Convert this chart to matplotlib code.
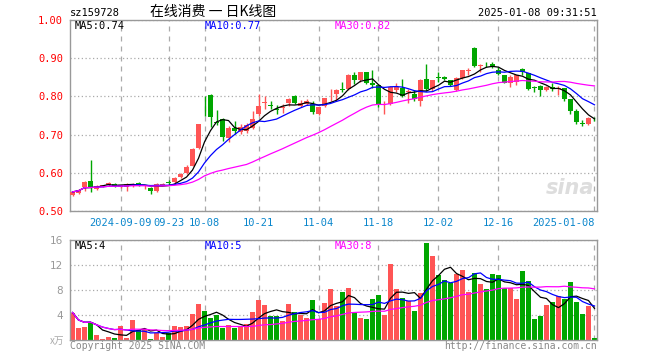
import numpy as np
import pandas as pd
import matplotlib.pyplot as plt

# daily bars, 2024-08-28 .. 2025-01-08
opens = [0.543, 0.548, 0.562, 0.578, 0.558, 0.565, 0.567, 0.571, 0.563, 0.563,
         0.566, 0.574, 0.565, 0.561, 0.552, 0.569, 0.575, 0.575, 0.588, 0.600,
         0.619, 0.665, 0.801, 0.804, 0.734, 0.741, 0.690, 0.716, 0.707, 0.710,
         0.716, 0.754, 0.783, 0.778, 0.768, 0.769, 0.783, 0.802, 0.774, 0.781,
         0.780, 0.754, 0.774, 0.805, 0.806, 0.819, 0.820, 0.856, 0.844, 0.863,
         0.834, 0.830, 0.782, 0.781, 0.816, 0.822, 0.811, 0.807, 0.789, 0.846,
         0.820, 0.851, 0.852, 0.842, 0.818, 0.848, 0.867, 0.927, 0.879, 0.886,
         0.884, 0.870, 0.855, 0.836, 0.838, 0.872, 0.860, 0.825, 0.828, 0.816,
         0.825, 0.819, 0.821, 0.792, 0.763, 0.730, 0.728, 0.742]
highs = [0.552, 0.558, 0.578, 0.633, 0.568, 0.569, 0.576, 0.572, 0.569, 0.572,
         0.573, 0.576, 0.568, 0.563, 0.572, 0.573, 0.581, 0.588, 0.600, 0.620,
         0.665, 0.729, 0.802, 0.806, 0.765, 0.743, 0.722, 0.736, 0.727, 0.730,
         0.763, 0.806, 0.802, 0.789, 0.778, 0.780, 0.795, 0.804, 0.791, 0.792,
         0.789, 0.773, 0.797, 0.820, 0.820, 0.839, 0.858, 0.865, 0.865, 0.865,
         0.868, 0.833, 0.789, 0.826, 0.835, 0.846, 0.820, 0.816, 0.845, 0.885,
         0.844, 0.863, 0.854, 0.844, 0.850, 0.870, 0.875, 0.929, 0.886, 0.890,
         0.890, 0.876, 0.857, 0.857, 0.857, 0.874, 0.862, 0.826, 0.830, 0.826,
         0.834, 0.826, 0.823, 0.794, 0.767, 0.737, 0.745, 0.746]
lows = [0.538, 0.545, 0.552, 0.549, 0.555, 0.562, 0.565, 0.564, 0.561, 0.553,
        0.564, 0.565, 0.557, 0.544, 0.550, 0.567, 0.567, 0.573, 0.586, 0.598,
        0.617, 0.662, 0.749, 0.720, 0.726, 0.682, 0.680, 0.701, 0.701, 0.705,
        0.714, 0.750, 0.767, 0.767, 0.754, 0.757, 0.775, 0.780, 0.772, 0.778,
        0.754, 0.751, 0.771, 0.789, 0.789, 0.811, 0.818, 0.832, 0.837, 0.832,
        0.823, 0.771, 0.754, 0.778, 0.811, 0.798, 0.783, 0.789, 0.776, 0.815,
        0.815, 0.837, 0.844, 0.827, 0.815, 0.846, 0.857, 0.876, 0.864, 0.877,
        0.874, 0.857, 0.834, 0.825, 0.829, 0.855, 0.818, 0.812, 0.802, 0.813,
        0.815, 0.803, 0.789, 0.754, 0.728, 0.723, 0.726, 0.735]
closes = [0.550, 0.556, 0.577, 0.563, 0.566, 0.567, 0.574, 0.566, 0.567, 0.570,
          0.571, 0.567, 0.566, 0.552, 0.570, 0.571, 0.574, 0.586, 0.597, 0.616,
          0.663, 0.728, 0.800, 0.745, 0.730, 0.693, 0.716, 0.710, 0.719, 0.725,
          0.742, 0.776, 0.785, 0.776, 0.764, 0.771, 0.793, 0.783, 0.784, 0.789,
          0.758, 0.771, 0.795, 0.807, 0.818, 0.817, 0.856, 0.844, 0.863, 0.835,
          0.831, 0.780, 0.784, 0.824, 0.824, 0.802, 0.813, 0.793, 0.842, 0.820,
          0.842, 0.849, 0.846, 0.829, 0.848, 0.868, 0.869, 0.879, 0.882, 0.884,
          0.879, 0.859, 0.836, 0.851, 0.855, 0.863, 0.820, 0.823, 0.817, 0.824,
          0.819, 0.822, 0.792, 0.763, 0.732, 0.728, 0.743, 0.740]
volumes = [4.4, 2.0, 2.1, 2.9, 0.8, 0.2, 0.5, 0.4, 2.2, 0.4,
           3.2, 1.6, 1.8, 0.2, 1.1, 0.5, 1.1, 2.2, 2.1, 2.2,
           4.2, 5.8, 4.6, 3.6, 4.0, 2.0, 2.4, 2.0, 2.1, 2.5,
           4.5, 6.4, 5.6, 3.8, 3.8, 3.1, 5.8, 4.5, 4.0, 3.6,
           6.4, 3.3, 6.0, 8.2, 5.4, 7.7, 8.3, 4.3, 3.5, 3.4,
           6.6, 7.2, 4.0, 12.2, 8.2, 6.7, 6.2, 4.6, 7.6, 15.5,
           13.5, 10.4, 9.6, 9.2, 10.5, 11.2, 7.7, 10.7, 9.0, 8.2,
           10.6, 10.4, 8.3, 8.3, 6.6, 11.0, 9.4, 3.4, 3.8, 5.6,
           6.1, 7.0, 6.6, 9.3, 6.1, 4.2, 5.4, 0.3]

holidays = ['2024-09-16', '2024-09-17', '2024-10-01', '2024-10-02', '2024-10-03',
            '2024-10-04', '2024-10-07', '2025-01-01']
tick_dates = ['2024-09-09', '2024-09-23', '2024-10-08', '2024-10-21', '2024-11-04',
              '2024-11-18', '2024-12-02', '2024-12-16', '2025-01-08']
tick_text = ['2024-09-09', '09-23', '10-08', '10-21', '11-04',
             '11-18', '12-02', '12-16', '2025-01-08']
price_ticks = [0.50, 0.60, 0.70, 0.80, 0.90, 1.00]
vol_ticks = [4, 8, 12, 16]

RED = '#ff5555'
GREEN = '#00a600'
GRID = '#aaaaaa'
MONO = 'DejaVu Sans Mono'
CJK = ['Noto Sans CJK SC', 'DejaVu Sans']
FS = 7

dates = pd.bdate_range('2024-08-28', '2025-01-08')
dates = dates[~dates.isin(pd.to_datetime(holidays))]
x = np.arange(len(dates))
ticks = [dates.get_loc(pd.Timestamp(d)) for d in tick_dates]

df = pd.DataFrame({'o': opens, 'h': highs, 'l': lows, 'c': closes, 'v': volumes})
up = df['c'] >= df['o']
colors = np.where(up, RED, GREEN)

W, H = 660, 360
fig = plt.figure(figsize=(W / 100, H / 100), dpi=100)
ax = fig.add_axes([70 / W, 1 - 211 / H, 527 / W, 191 / H])
axv = fig.add_axes([70 / W, 1 - 340 / H, 527 / W, 100 / H])

# candles
ax.vlines(x, df['l'], df['h'], colors=colors, linewidth=1, zorder=2)
body = (df['c'] - df['o']).abs().clip(lower=0.0015)
ax.bar(x, body, bottom=df[['o', 'c']].min(axis=1), width=0.72, color=colors,
       linewidth=0, zorder=3)
for n, col in [(5, 'black'), (10, '#0000ff'), (30, '#ff00ff')]:
    ax.plot(x, df['c'].rolling(n, min_periods=1).mean(), color=col, lw=0.9, zorder=4)

# volume
axv.bar(x, df['v'], width=0.82, color=colors, linewidth=0, zorder=2)
for n, col in [(5, 'black'), (10, '#0000ff'), (30, '#ff00ff')]:
    axv.plot(x, df['v'].rolling(n, min_periods=1).mean(), color=col, lw=0.9, zorder=3)

for a in (ax, axv):
    a.set_xlim(-0.42, len(x) - 0.58)
    a.set_xticks(ticks)
    a.tick_params(length=0)
    for s in a.spines.values():
        s.set_color('#999999')
        s.set_linewidth(1)
    a.xaxis.grid(True, linestyle=(0, (4, 4)), color=GRID, lw=0.9)
    a.yaxis.grid(True, linestyle=(0, (1, 2)), color=GRID, lw=0.9)
    a.set_axisbelow(True)

ax.set_ylim(0.5, 1.0)
ax.set_yticks(price_ticks)
ax.set_yticklabels(['%.2f' % p for p in price_ticks], color='red',
                   family=MONO, fontsize=FS + 0.5)
ax.set_xticklabels(tick_text, color='#0a86cc', family=MONO, fontsize=FS + 0.5)
ax.get_xticklabels()[-1].set_ha('right')
ax.tick_params(axis='y', pad=5)
ax.tick_params(axis='x', pad=5)

axv.set_ylim(0, 16)
axv.set_yticks(vol_ticks)
axv.set_yticklabels([str(v) for v in vol_ticks], color='#999999', fontsize=7.5)
axv.set_xticklabels([])
axv.tick_params(axis='y', pad=5)


def px(xp, yp, s, **kw):
    fig.text(xp / W, 1 - yp / H, s, va='center', **kw)


px(70, 13, 'sz159728', family=MONO, fontsize=FS + 0.5)
px(150, 12, '在线消费 一 日K线图', family=CJK, fontsize=10)
px(597, 13, '2025-01-08 09:31:51', family=MONO, fontsize=FS + 0.5, ha='right')

px(75, 26, 'MA5:0.74', family=MONO, fontsize=FS + 0.5, color='black')
px(205, 26, 'MA10:0.77', family=MONO, fontsize=FS + 0.5, color='#0000ff')
px(335, 26, 'MA30:0.82', family=MONO, fontsize=FS + 0.5, color='#ff00ff')
px(75, 246, 'MA5:4', family=MONO, fontsize=FS + 0.5, color='black')
px(205, 246, 'MA10:5', family=MONO, fontsize=FS + 0.5, color='#0000ff')
px(335, 246, 'MA30:8', family=MONO, fontsize=FS + 0.5, color='#ff00ff')

px(594, 188, 'sina', fontsize=15, style='italic', weight='bold',
   color='#dddddd', ha='right', zorder=1)

px(70, 346, 'Copyright 2025 SINA.COM', family=MONO, fontsize=FS, color='#888888')
px(597, 346, 'http://finance.sina.com.cn', family=MONO, fontsize=FS,
   color='#888888', ha='right')
px(64, 341, 'x万', family=CJK, fontsize=7, color='#aaaaaa', ha='right')

fig.savefig('out.png', dpi=100, facecolor='white')
